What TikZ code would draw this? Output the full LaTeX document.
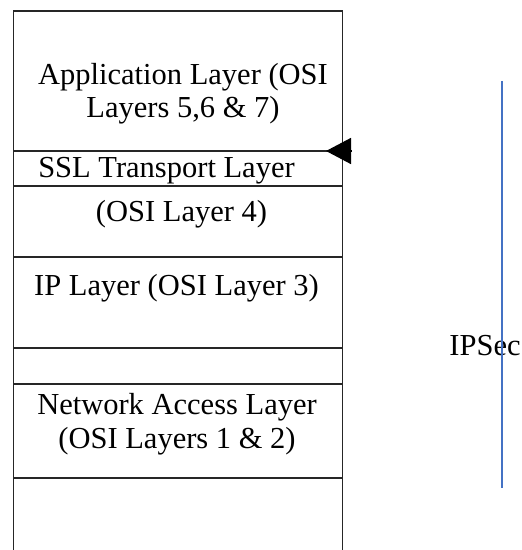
\documentclass[tikz,border=0pt]{standalone}
\usepackage{fontspec}
\setmainfont{Liberation Serif}
\usetikzlibrary{arrows.meta,positioning}
\definecolor{ipsecblue}{RGB}{68,114,196}
\tikzset{
    layertext/.style={align=center, inner sep=0pt, font=\fontsize{15.25}{16.6}\selectfont, anchor=base},
    stackline/.style={draw=black!85, line width=0.75pt},
    ipsecline/.style={draw=ipsecblue, line width=0.55pt},
    arrow/.style={draw=black, line width=0.75pt, -{Triangle[length=12.5pt, width=13pt]}}
}

\begin{document}
\begin{tikzpicture}[x=0.5pt, y=-0.5pt]
        \useasboundingbox (0,0) rectangle (521,550);

        % Protocol stack outline (open at the bottom)
        \coordinate (topleft) at (13.5,11);
        \coordinate (topright) at (342.5,11);
        \draw [stackline] (13.5,550) -- (topleft) -- (topright) -- (342.5,550);
        \foreach \y in {151,186,257,348,384,478}
            \draw [stackline] (13.5,\y) -- (342.5,\y);

        % base anchor sits on the last line of a two-line label
        \node (app) [layertext] at (183,118) {Application Layer (OSI\\Layers 5,6 \& 7)};
        \node (ssl) [layertext] at (166.5,178) {SSL Transport Layer};
        \node (osi4) [layertext] at (181.5,221.5) {(OSI Layer 4)};
        \node (ip) [layertext] at (176.5,295) {IP Layer (OSI Layer 3)};
        \node (net) [layertext] at (177,448) {Network Access Layer\\(OSI Layers 1 \& 2)};

        % IPSec span
        \node (ipsec) [layertext] at (485,355) {IPSec};
        \coordinate (ipsectop) at (502,81);
        \coordinate (ipsecbottom) at (502,488);
        \draw [ipsecline] (ipsectop) -- (ipsecbottom);

        % SSL marker
        \coordinate (sslfrom) at (351,151);
        \coordinate (sslto) at (326,151);
        \draw [arrow] (sslfrom) -- (sslto);
    \end{tikzpicture}
\end{document}
